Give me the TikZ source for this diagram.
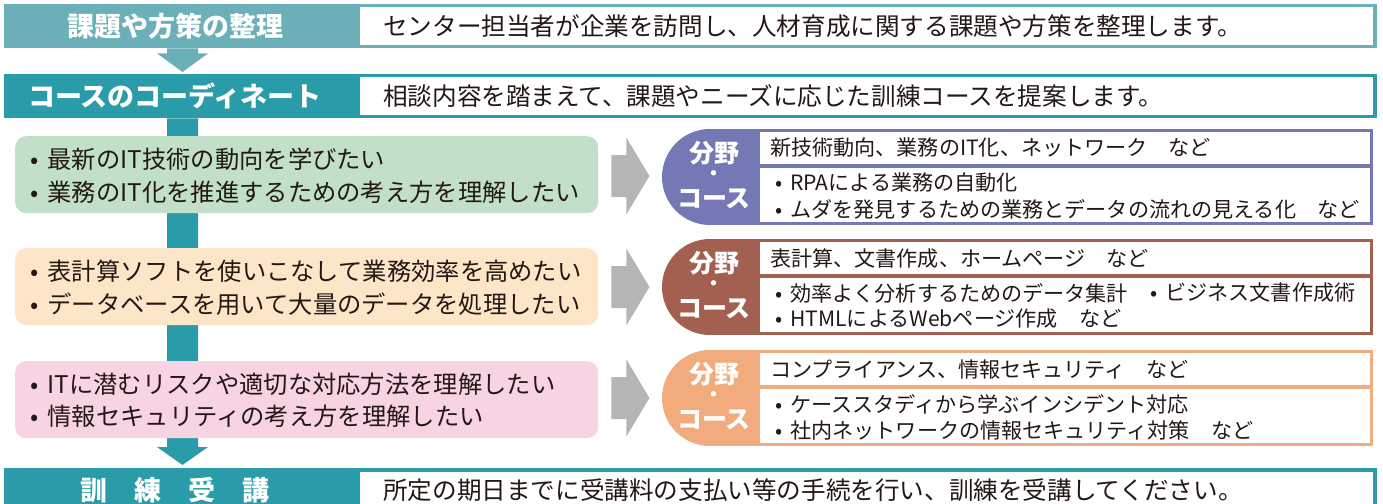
\documentclass[tikz,border=0pt]{standalone}
\usepackage{fontspec}
\setmainfont{Noto Sans CJK JP}
\usetikzlibrary{calc}
\definecolor{tealA}{HTML}{6BAFB8}
\definecolor{tealB}{HTML}{2A9BA8}
\definecolor{txt}{HTML}{231815}
\definecolor{grnbox}{HTML}{C2E0C7}
\definecolor{orbox}{HTML}{FDE5C8}
\definecolor{pkbox}{HTML}{F7D3E3}
\definecolor{purp}{HTML}{7479B6}
\definecolor{brwn}{HTML}{A35F50}
\definecolor{orng}{HTML}{F2AB7C}
\definecolor{gry}{HTML}{B5B5B5}
\newcommand{\bul}{•\hspace{0.38em}}
\tikzset{
  bar/.style={draw=none,inner sep=0pt,anchor=north west,minimum width=1373pt,minimum height=44pt},
  wbox/.style={fill=white,draw=none,inner sep=0pt,anchor=north west},
  headtxt/.style={text=white,inner sep=0pt,font=\fontsize{27}{30}\selectfont\bfseries},
  bodytxt/.style={text=txt,inner sep=0pt,anchor=west,font=\fontsize{24.6}{28}\selectfont},
  lbox/.style={draw=none,inner sep=0pt,anchor=north west,rounded corners=11pt,minimum width=583pt,minimum height=77pt},
  ltxt/.style={text=txt,inner sep=0pt,anchor=west,font=\fontsize{24.3}{28}\selectfont},
  rtxt/.style={text=txt,inner sep=0pt,anchor=west,font=\fontsize{21.1}{25}\selectfont},
  fldtxt/.style={text=white,inner sep=0pt,font=\fontsize{25}{27}\selectfont\bfseries},
  flddot/.style={text=white,inner sep=0pt,font=\fontsize{19}{20}\selectfont\bfseries},
}
\newcommand{\rblock}[3]{%
  \fill[#2] (710,#3) rectangle (1373,#3+96);
  \fill[#2] (710,#3+48) circle[radius=48pt];
  \node[wbox,minimum width=610pt,minimum height=32pt] (#1t) at (760,#3+3) {};
  \node[wbox,minimum width=610pt,minimum height=54pt] (#1b) at (760,#3+39) {};
  \node[fldtxt] (#1f1) at (714,#3+24) {分野};
  \node[flddot] (#1f2) at (714,#3+47) {・};
  \node[fldtxt] (#1f3) at (714,#3+70) {コース};
}
\newcommand{\garrow}[2]{%
  \coordinate (#1ga) at ($(#1.east |- 0,#2)$);
  \fill[gry] ($(#1ga)+(13,-21)$) -- ($(#1ga)+(28,-21)$) -- ($(#1ga)+(28,-38.5)$)
     -- ($(#1ga)+(51,0)$) -- ($(#1ga)+(28,38.5)$) -- ($(#1ga)+(28,21)$)
     -- ($(#1ga)+(13,21)$) -- cycle;
}
\begin{document}
\begin{tikzpicture}[x=1pt,y=-1pt]
\useasboundingbox (0,0) rectangle (1383,503);
% row 1
\node[bar,fill=tealA] (r1) at (4,4) {};
\node[wbox,minimum width=1013pt,minimum height=38pt] (w1) at (360,7) {};
\node[headtxt] (h1) at (175,26) {課題や方策の整理};
\node[bodytxt] (t1) at (383,26) {センター担当者が企業を訪問し、人材育成に関する課題や方策を整理します。};
% row 2
\node[bar,fill=tealB] (r2) at (4,74) {};
\node[wbox,minimum width=1013pt,minimum height=38pt] (w2) at (360,77) {};
\node[headtxt] (h2) at (175,96) {コースのコーディネート};
\node[bodytxt] (t2) at (383,96) {相談内容を踏まえて、課題やニーズに応じた訓練コースを提案します。};
% row 4
\node[bar,fill=tealB] (r4) at (4,468) {};
\node[wbox,minimum width=1013pt,minimum height=38pt] (w4) at (360,472) {};
\node[headtxt] (h4) at (175,490) {訓　練　受　講};
\node[bodytxt] (t4) at (383,490) {所定の期日までに受講料の支払い等の手続を行い、訓練を受講してください。};
% arrow row1 -> row2
\coordinate (a1) at ($(r1.south west)+(178.5,0)$);
\coordinate (a2) at ($(r2.north west)+(178.5,-2)$);
\fill[tealA] ($(a1)+(-15.5,0)$) -- ($(a1)+(-15.5,5)$) -- ($(a1)+(-25.5,5)$) -- (a2)
  -- ($(a1)+(25.5,5)$) -- ($(a1)+(15.5,5)$) -- ($(a1)+(15.5,0)$) -- cycle;
% main stem row2 -> row4
\coordinate (s1) at ($(r2.south west)+(178.5,0)$);
\coordinate (s2) at ($(r4.north west)+(178.5,-3)$);
\fill[tealB] ($(s1)+(-15.5,0)$) -- ($(s2)+(-15.5,-18)$) -- ($(s2)+(-25.5,-18)$) -- (s2)
  -- ($(s2)+(25.5,-18)$) -- ($(s2)+(15.5,-18)$) -- ($(s1)+(15.5,0)$) -- cycle;
% left boxes
\node[lbox,fill=grnbox] (g1) at (15,136) {};
\node[ltxt] (g1a) at (30,159) {\bul 最新のIT技術の動向を学びたい};
\node[ltxt] (g1b) at (30,192) {\bul 業務のIT化を推進するための考え方を理解したい};
\node[lbox,fill=orbox] (g2) at (15,248) {};
\node[ltxt] (g2a) at (30,271) {\bul 表計算ソフトを使いこなして業務効率を高めたい};
\node[ltxt] (g2b) at (30,304) {\bul データベースを用いて大量のデータを処理したい};
\node[lbox,fill=pkbox] (g3) at (15,361) {};
\node[ltxt] (g3a) at (30,384) {\bul ITに潜むリスクや適切な対応方法を理解したい};
\node[ltxt] (g3b) at (30,416) {\bul 情報セキュリティの考え方を理解したい};
% right blocks
\rblock{p}{purp}{129}
\node[rtxt] (p1) at (770,148) {新技術動向、業務のIT化、ネットワーク　など};
\node[rtxt] (p2) at (775,183) {\bul RPAによる業務の自動化};
\node[rtxt] (p3) at (775,209) {\bul ムダを発見するための業務とデータの流れの見える化　など};
\rblock{b}{brwn}{239}
\node[rtxt] (b1) at (770,258) {表計算、文書作成、ホームページ　など};
\node[rtxt] (b2) at (775,293) {\bul 効率よく分析するためのデータ集計};
\node[rtxt] (b2x) at (1150,293) {\bul ビジネス文書作成術};
\node[rtxt] (b3) at (775,319) {\bul HTMLによるWebページ作成　など};
\rblock{o}{orng}{350}
\node[rtxt] (o1) at (770,369) {コンプライアンス、情報セキュリティ　など};
\node[rtxt] (o2) at (775,404) {\bul ケーススタディから学ぶインシデント対応};
\node[rtxt] (o3) at (775,430) {\bul 社内ネットワークの情報セキュリティ対策　など};
% gray arrows
\garrow{g1}{176}
\garrow{g2}{287}
\garrow{g3}{398}
\end{tikzpicture}
\end{document}
